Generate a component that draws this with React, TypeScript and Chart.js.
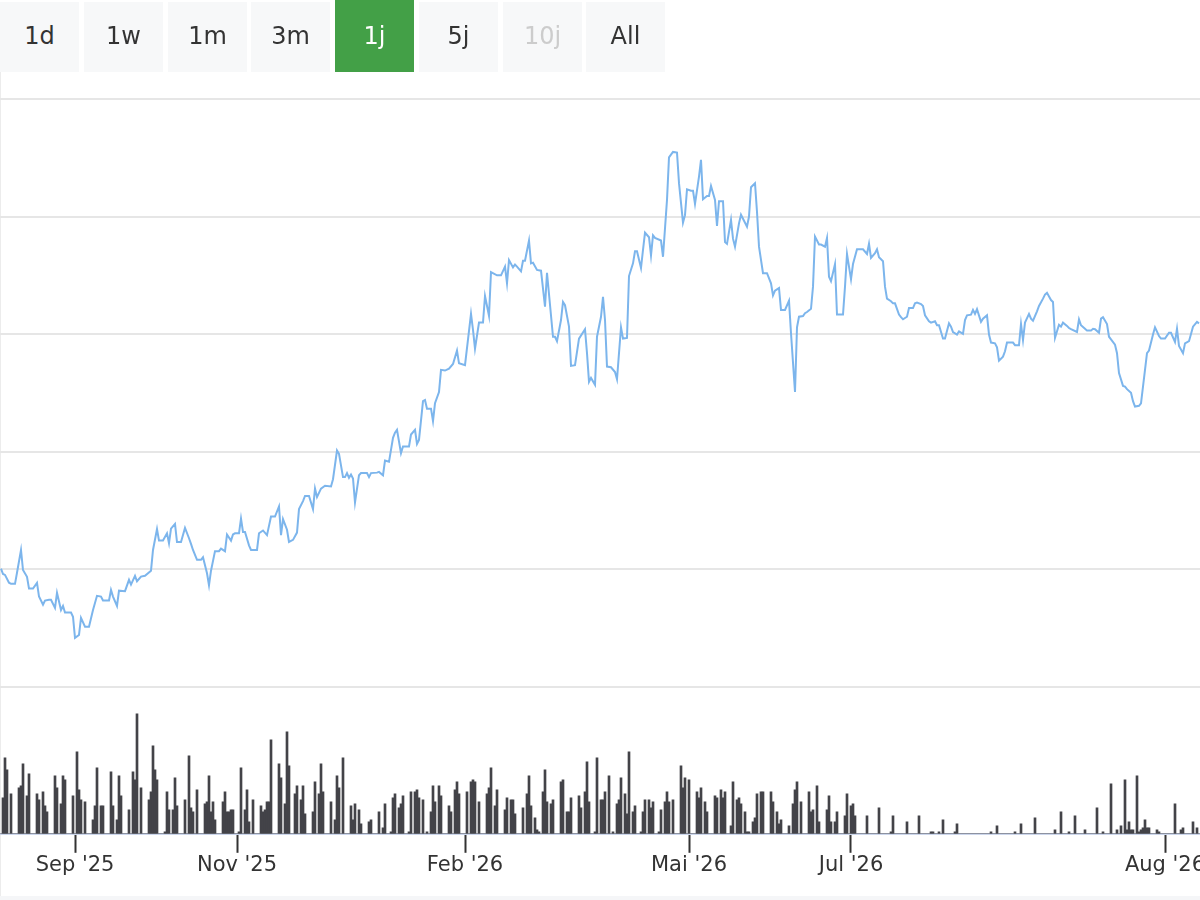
import React, { useEffect, useRef } from "react";
import { Chart, registerables } from "chart.js";

Chart.register(...registerables);

// ---- range selector ----
const rangeButtons = ["1d", "1w", "1m", "3m", "1j", "5j", "10j", "All"];
const activeButton = "1j";
const disabledButtons = ["10j"];

// ---- x axis ticks (index of the data point and label) ----
const tickIndex = [37, 118, 232, 344, 425, 582];
const tickLabels = ["Sep '25", "Nov '25", "Feb '26", "Mai '26", "Jul '26", "Aug '26"];

// ---- price line: data point index and value ----
const priceIndex = [
  0, 1, 2, 4, 5, 7, 8, 10, 11, 13, 14, 16, 18, 19, 21, 22, 24, 25, 27, 28, 30, 31, 32, 35, 36, 37, 39, 40, 42, 44,
  46, 48, 50, 51, 54, 55, 56, 58, 59, 62, 64, 65, 67, 68, 70, 72, 75, 76, 78, 79, 81, 83, 84, 85, 87, 88, 90, 92, 94, 95,
  96, 98, 100, 101, 103, 104, 105, 107, 109, 110, 112, 113, 115, 116, 117, 119, 120, 121, 122, 124, 125, 128, 129, 131, 133, 135, 137, 139, 140, 141,
  143, 144, 146, 148, 149, 151, 152, 154, 156, 157, 158, 160, 162, 165, 166, 168, 169, 171, 172, 173, 174, 175, 176, 177, 179, 180, 183, 184, 185, 188,
  189, 191, 192, 194, 196, 197, 198, 200, 201, 204, 205, 207, 208, 209, 211, 212, 213, 215, 216, 217, 219, 220, 222, 224, 226, 228, 229, 232, 235, 236,
  237, 239, 241, 242, 244, 245, 248, 250, 252, 253, 254, 256, 257, 258, 260, 261, 262, 264, 265, 266, 268, 270, 272, 273, 276, 277, 278, 280, 281, 282,
  284, 285, 287, 289, 292, 293, 294, 295, 297, 298, 300, 301, 302, 303, 305, 307, 308, 309, 310, 311, 313, 314, 316, 317, 318, 320, 321, 322, 324, 325,
  326, 327, 330, 331, 333, 334, 336, 338, 339, 341, 342, 343, 345, 346, 347, 349, 350, 351, 353, 354, 355, 357, 358, 359, 361, 362, 363, 365, 366, 367,
  369, 370, 373, 374, 375, 377, 378, 379, 381, 383, 385, 386, 387, 389, 390, 392, 394, 395, 397, 398, 399, 401, 402, 403, 405, 406, 407, 409, 410, 412,
  413, 414, 415, 417, 418, 421, 422, 423, 425, 426, 428, 430, 431, 433, 434, 435, 437, 438, 439, 441, 442, 443, 445, 446, 447, 449, 450, 451, 453, 454,
  456, 457, 458, 460, 461, 462, 464, 465, 467, 468, 469, 471, 472, 474, 475, 476, 478, 479, 481, 482, 483, 485, 486, 487, 488, 490, 491, 493, 494, 495,
  497, 498, 499, 501, 502, 503, 506, 507, 509, 510, 511, 512, 514, 515, 516, 518, 519, 521, 522, 523, 525, 526, 527, 529, 530, 531, 533, 534, 535, 538,
  539, 540, 542, 543, 545, 546, 547, 549, 550, 551, 553, 554, 555, 557, 558, 559, 561, 562, 563, 565, 566, 567, 569, 570, 572, 573, 574, 576, 577, 579,
  580, 582, 584, 585, 587, 588, 589, 591, 592, 594, 595, 596, 598, 599,
];
const priceValues = [
  20.03, 19.8, 19.76, 19.43, 19.38, 19.38, 19.85, 20.82, 19.97, 19.68, 19.18, 19.18, 19.42, 18.84, 18.49, 18.67, 18.7, 18.7, 18.36, 19.0, 18.27, 18.44, 18.16, 18.16, 17.98, 17.08, 17.21, 17.93, 17.56, 17.56,
  18.27, 18.87, 18.84, 18.67, 18.67, 19.12, 18.84, 18.44, 19.09, 19.07, 19.55, 19.35, 19.72, 19.49, 19.69, 19.72, 19.94, 20.82, 21.71, 21.22, 21.22, 21.53, 21.11, 21.73, 21.93, 21.16, 21.16, 21.76, 21.32, 21.08,
  20.82, 20.4, 20.4, 20.51, 19.83, 19.32, 19.94, 20.77, 20.77, 20.88, 20.77, 21.48, 21.22, 21.48, 21.53, 21.53, 22.16, 21.59, 21.59, 21.02, 20.82, 20.82, 21.53, 21.65, 21.45, 22.24, 22.24, 22.67, 21.45, 22.13,
  21.68, 21.16, 21.25, 21.56, 22.56, 22.9, 23.12, 23.12, 22.56, 23.43, 23.07, 23.43, 23.55, 23.52, 23.83, 25.05, 24.91, 23.92, 23.92, 24.09, 23.89, 24.03, 23.86, 22.84, 24.0, 24.09, 24.09, 23.92, 24.09, 24.11,
  24.14, 24.0, 24.62, 24.57, 25.59, 25.81, 25.93, 24.94, 25.22, 25.22, 25.73, 25.93, 25.33, 25.5, 27.15, 27.2, 26.83, 26.83, 26.3, 27.06, 27.54, 28.48, 28.45, 28.53, 28.73, 29.3, 28.76, 28.68, 30.86, 30.18,
  29.38, 30.49, 30.49, 31.62, 30.78, 32.64, 32.5, 32.5, 32.87, 32.16, 33.15, 32.84, 32.96, 32.87, 32.67, 33.12, 33.12, 33.98, 33.01, 33.04, 32.73, 32.7, 31.17, 32.61, 29.89, 29.89, 29.7, 30.6, 31.37, 31.23,
  30.32, 28.65, 28.68, 29.81, 30.21, 29.19, 27.97, 28.14, 27.85, 29.89, 30.74, 31.59, 30.6, 28.62, 28.59, 28.39, 28.08, 29.19, 30.29, 29.81, 29.84, 32.47, 33.01, 33.52, 33.52, 32.81, 33.58, 34.32, 34.12, 33.35,
  34.2, 34.09, 33.98, 33.29, 35.71, 37.52, 37.75, 37.72, 36.42, 34.74, 35.06, 36.16, 36.1, 36.1, 35.54, 36.7, 37.41, 35.74, 35.88, 35.88, 36.3, 35.71, 34.6, 35.65, 35.65, 33.92, 33.84, 34.86, 34.06, 33.72,
  34.71, 35.08, 34.57, 35.0, 36.25, 36.42, 35.2, 33.72, 32.59, 32.59, 32.16, 31.65, 31.85, 31.96, 31.03, 31.03, 31.42, 30.04, 27.54, 30.29, 30.74, 30.77, 30.89, 30.94, 31.08, 32.02, 34.15, 33.81, 33.81, 33.72,
  34.09, 32.44, 32.25, 32.98, 30.83, 30.83, 32.02, 33.41, 32.33, 32.98, 33.61, 33.61, 33.61, 33.41, 33.84, 33.24, 33.44, 33.61, 33.27, 33.1, 32.02, 31.51, 31.4, 31.31, 31.31, 30.83, 30.72, 30.63, 30.74, 31.11,
  31.11, 31.31, 31.34, 31.28, 31.2, 30.8, 30.55, 30.49, 30.55, 30.38, 30.38, 29.81, 29.81, 30.46, 30.32, 30.09, 29.98, 30.12, 30.01, 30.6, 30.8, 30.83, 31.03, 30.86, 31.06, 30.52, 30.66, 30.8, 29.98, 29.64,
  29.61, 29.44, 28.87, 29.04, 29.27, 29.64, 29.64, 29.53, 29.53, 30.43, 29.75, 30.49, 30.86, 30.66, 30.57, 30.97, 31.2, 31.51, 31.68, 31.76, 31.45, 31.37, 29.84, 30.4, 30.32, 30.49, 30.35, 30.26, 30.21, 30.09,
  30.63, 30.38, 30.23, 30.15, 30.15, 30.23, 30.21, 30.06, 30.66, 30.72, 30.43, 29.89, 29.78, 29.55, 29.19, 28.34, 27.8, 27.77, 27.66, 27.51, 27.15, 26.92, 26.95, 27.06, 28.48, 29.19, 29.3, 29.98, 30.29, 29.92,
  29.81, 29.81, 30.06, 30.06, 29.67, 30.23, 29.5, 29.19, 29.61, 29.7, 30.01, 30.32, 30.52, 30.46,
];

// ---- volume: one value per data point ----
const volumeValues = [
  0, 36, 76, 64, 0, 40, 0, 0, 0, 46, 48, 70, 0, 38, 60, 0, 0, 0, 40, 34,
  0, 42, 28, 22, 0, 0, 0, 58, 46, 0, 30, 58, 54, 0, 0, 0, 38, 0, 82, 44,
  34, 0, 32, 0, 0, 0, 14, 28, 66, 0, 28, 28, 0, 0, 0, 62, 28, 0, 14, 58,
  38, 0, 0, 0, 24, 0, 62, 54, 120, 0, 46, 0, 0, 0, 34, 42, 88, 64, 54, 0,
  0, 0, 2, 42, 24, 0, 24, 56, 28, 0, 0, 0, 34, 0, 78, 26, 22, 0, 44, 0,
  0, 0, 30, 32, 58, 22, 32, 14, 0, 0, 0, 32, 42, 22, 22, 24, 24, 0, 0, 2,
  66, 0, 24, 44, 12, 0, 34, 0, 0, 0, 28, 22, 24, 32, 32, 94, 0, 0, 0, 70,
  56, 0, 30, 102, 68, 0, 0, 40, 48, 0, 34, 48, 20, 0, 0, 0, 22, 52, 0, 40,
  70, 42, 0, 0, 0, 32, 0, 14, 58, 46, 0, 76, 0, 0, 0, 28, 14, 30, 0, 24,
  10, 0, 0, 0, 12, 14, 0, 0, 0, 22, 0, 6, 30, 0, 0, 2, 36, 40, 0, 26,
  30, 38, 0, 0, 2, 42, 0, 42, 44, 36, 0, 34, 0, 2, 0, 22, 48, 32, 0, 48,
  38, 0, 0, 0, 28, 22, 0, 44, 52, 40, 0, 0, 0, 42, 0, 52, 54, 52, 0, 32,
  0, 0, 0, 40, 46, 66, 0, 28, 44, 0, 0, 0, 24, 36, 0, 34, 34, 20, 0, 0,
  0, 26, 0, 40, 58, 28, 0, 16, 4, 2, 0, 42, 64, 32, 0, 30, 34, 0, 0, 0,
  52, 54, 0, 22, 22, 36, 0, 0, 0, 38, 26, 0, 42, 72, 32, 0, 0, 2, 76, 0,
  34, 34, 42, 0, 58, 0, 2, 0, 30, 34, 56, 0, 40, 20, 82, 0, 22, 28, 0, 0,
  2, 22, 34, 0, 34, 26, 32, 0, 0, 2, 24, 0, 32, 42, 32, 0, 34, 0, 0, 0,
  68, 46, 56, 0, 54, 0, 0, 0, 42, 36, 46, 0, 32, 22, 0, 0, 0, 38, 36, 0,
  44, 36, 42, 0, 0, 8, 52, 0, 34, 36, 30, 0, 22, 2, 2, 0, 12, 16, 40, 0,
  42, 42, 0, 0, 0, 42, 32, 0, 22, 10, 14, 0, 0, 0, 8, 0, 30, 44, 52, 0,
  32, 0, 0, 0, 42, 22, 24, 0, 48, 12, 0, 0, 0, 24, 38, 12, 0, 12, 22, 0,
  0, 0, 18, 40, 0, 28, 30, 18, 0, 0, 0, 0, 0, 18, 0, 0, 0, 0, 0, 26,
  0, 0, 0, 0, 0, 2, 18, 0, 0, 0, 0, 0, 0, 12, 0, 0, 0, 0, 0, 18,
  0, 0, 0, 0, 0, 2, 2, 0, 0, 2, 0, 14, 0, 0, 0, 0, 0, 2, 10, 0,
  0, 0, 0, 0, 0, 0, 0, 0, 0, 0, 0, 0, 0, 0, 0, 2, 0, 0, 8, 0,
  0, 0, 0, 0, 0, 0, 0, 2, 0, 0, 10, 0, 0, 0, 0, 0, 0, 16, 0, 0,
  0, 0, 0, 0, 0, 0, 0, 4, 0, 0, 22, 0, 0, 0, 2, 0, 0, 18, 0, 0,
  0, 0, 4, 0, 0, 0, 0, 0, 26, 0, 0, 2, 0, 0, 0, 50, 0, 0, 4, 0,
  8, 0, 54, 4, 12, 4, 4, 0, 58, 2, 4, 6, 14, 6, 6, 0, 0, 0, 4, 2,
  0, 0, 0, 0, 0, 0, 0, 30, 0, 0, 4, 6, 0, 0, 0, 0, 12, 0, 6, 0,
];

const FONT = "'DejaVu Sans', Verdana, sans-serif";

export default function App() {
  const canvasRef = useRef<HTMLCanvasElement | null>(null);

  useEffect(() => {
    document.body.style.margin = "0";
    const canvas = canvasRef.current;
    if (!canvas) return;
    const n = volumeValues.length;
    const chart = new Chart(canvas, {
      type: "bar",
      data: {
        datasets: [
          {
            type: "line",
            data: priceIndex.map((x, i) => ({ x, y: priceValues[i] })),
            borderColor: "#7cb5ec",
            borderWidth: 2,
            pointRadius: 0,
            tension: 0,
            fill: false,
            yAxisID: "y",
            xAxisID: "x",
          } as any,
          {
            type: "bar",
            data: volumeValues.map((v, i) => ({ x: i, y: v })),
            backgroundColor: "#434348",
            borderWidth: 0,
            barPercentage: 1,
            categoryPercentage: 1,
            yAxisID: "y2",
            xAxisID: "x",
          } as any,
        ],
      },
      options: {
        animation: false,
        responsive: false,
        maintainAspectRatio: false,
        layout: { padding: { top: 99, bottom: 22, left: 0, right: 0 } },
        plugins: { legend: { display: false }, tooltip: { enabled: false } },
        scales: {
          x: {
            type: "linear",
            min: -0.5,
            max: n - 0.5,
            offset: false,
            z: 1,
            afterBuildTicks: (axis: any) => {
              axis.ticks = [...tickIndex.map((v) => ({ value: v })), { value: n - 0.5 }];
            },
            ticks: {
              autoSkip: false,
              maxRotation: 0,
              minRotation: 0,
              padding: 0,
              color: "#333333",
              font: { family: FONT, size: 21 },
              callback: (value: any) => {
                const k = tickIndex.indexOf(Number(value));
                return k >= 0 ? tickLabels[k] : "";
              },
            },
            grid: {
              display: true,
              offset: false,
              drawOnChartArea: false,
              drawTicks: true,
              tickLength: 19,
              tickWidth: 2,
              tickColor: (ctx: any) =>
                ctx.tick && tickIndex.includes(ctx.tick.value) ? "#333333" : "rgba(0,0,0,0)",
            },
            border: { display: true, color: "#ccd6eb", width: 2 },
          } as any,
          y2: {
            type: "linear",
            position: "left",
            stack: "panes",
            stackWeight: 147,
            min: 0,
            max: 147,
            ticks: { display: false },
            grid: { display: false, drawTicks: false },
            border: { display: false },
          } as any,
          y: {
            type: "linear",
            position: "left",
            stack: "panes",
            stackWeight: 588,
            min: 15,
            max: 40,
            ticks: { display: false, stepSize: 5 },
            grid: { color: "#e6e6e6", lineWidth: 2, drawTicks: false },
            border: { display: false },
          } as any,
        },
      },
    });
    return () => chart.destroy();
  }, []);

  const step = 83.75;
  return (
    <div style={{ position: "relative", width: 1200, height: 900, background: "#ffffff", overflow: "hidden" }}>
      <div style={{ position: "absolute", left: 0, top: 72, width: 1, height: 824, background: "#ececec" }} />
      <div style={{ position: "absolute", left: 0, top: 896, width: 1200, height: 4, background: "#f5f6f8" }} />
      <canvas
        ref={canvasRef}
        width={1200}
        height={900}
        style={{ position: "absolute", left: 0, top: 0, width: 1200, height: 900, display: "block" }}
      />
      {rangeButtons.map((label, i) => {
        const active = label === activeButton;
        const disabled = disabledButtons.includes(label);
        return (
          <div
            key={label}
            style={{
              position: "absolute",
              left: Math.round(i * step),
              top: active ? 0 : 2,
              width: 79,
              height: active ? 72 : 70,
              lineHeight: active ? "72px" : "68px",
              textAlign: "center",
              background: active ? "#43a047" : "#f7f8f9",
              color: active ? "#ffffff" : disabled ? "#cccccc" : "#333333",
              fontFamily: FONT,
              fontSize: 24,
            }}
          >
            {label}
          </div>
        );
      })}
    </div>
  );
}
